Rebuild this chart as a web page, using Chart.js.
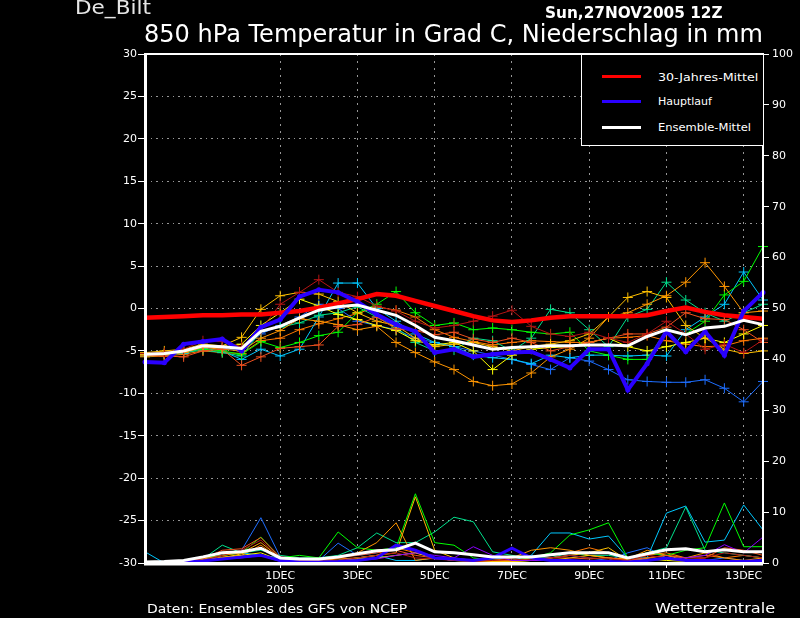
<!DOCTYPE html>
<html>
<head>
<meta charset="utf-8">
<script src="https://cdn.jsdelivr.net/npm/chart.js@4/dist/chart.umd.min.js"></script>
<style>
body { margin: 0; background: #000; }
#wrap { position: relative; width: 800px; height: 618px; background: #000; overflow: hidden; font-family: 'DejaVu Sans', sans-serif; color: #fff; }
#c { position: absolute; left: 0; top: 0; }
.t { position: absolute; white-space: nowrap; line-height: 1; transform-origin: 0 0; }
#legendBox { position: absolute; left: 581px; top: 54px; width: 181px; height: 90px; border: 1px solid #fff; background: #000; }
.sw { position: absolute; width: 39px; height: 3px; }
</style>
</head>
<body>
<div id="wrap">
  <canvas id="c" width="800" height="618"></canvas>
  <div id="legendBox"></div>
</div>
<script>
// Zeitachse: 12-stuendlich ab 27NOV2005 12Z
const times = ['27NOV12','28NOV00','28NOV12','29NOV00','29NOV12','30NOV00','30NOV12',
  '01DEC00','01DEC12','02DEC00','02DEC12','03DEC00','03DEC12','04DEC00','04DEC12',
  '05DEC00','05DEC12','06DEC00','06DEC12','07DEC00','07DEC12','08DEC00','08DEC12',
  '09DEC00','09DEC12','10DEC00','10DEC12','11DEC00','11DEC12','12DEC00','12DEC12',
  '13DEC00','13DEC12'];
const tickDates = ['01DEC00','03DEC00','05DEC00','07DEC00','09DEC00','11DEC00','13DEC00'];
const tickText = [['1DEC','2005'],'3DEC','5DEC','7DEC','9DEC','11DEC','13DEC'];

// Temperatur 850 hPa (Grad C)
const klima30 = [-1.1,-1.0,-0.9,-0.8,-0.8,-0.7,-0.7,-0.5,-0.3,0.1, 0.6,1.1,1.7,1.5,0.9,0.3,-0.3,-0.9,-1.4,-1.6, -1.4,-1.1,-0.9,-0.9,-0.9,-0.9,-0.8,-0.3,0.1,-0.4, -0.8,-1.0,-1.2];
const hauptlauf = [-6.3,-6.4,-4.2,-3.9,-3.6,-5.0,-2.2,-1.3,1.4,2.2, 1.9,0.8,-0.7,-1.9,-2.7,-5.2,-4.8,-5.7,-5.4,-5.2, -5.1,-6.0,-7.0,-4.8,-4.8,-9.6,-6.5,-2.7,-5.1,-2.7, -5.5,-0.3,1.9];
const ensMittel = [-5.4,-5.3,-5.0,-4.4,-4.5,-4.7,-2.7,-2.1,-1.1,-0.2, 0.2,0.4,-0.2,-0.8,-2.0,-3.4,-3.8,-4.3,-4.8,-4.6, -4.5,-4.4,-4.4,-4.3,-4.3,-4.4,-3.3,-2.5,-3.1,-2.3, -2.1,-1.4,-1.9];

// Ensemble-Mitglieder
const tDarkred = [-5.3,-5.2,-4.8,-3.8,-3.9,-4.5,-2.5,0.5,1.9,3.4, 1.9,1.4,0.3,-0.3,-1.5,-2.3,-2.0,-1.5,-0.9,-0.2, -2.1,-3.0,-3.3,-2.8,-3.5,-4.0,-3.0,-1.5,-3.0,-4.8, -4.2,-5.2,-3.7];
const tOrangered = [-5.5,-5.6,-5.7,-5.0,-4.8,-6.7,-5.7,-4.7,-4.5,-4.3, -2.1,-1.9,-1.0,-2.4,-2.6,-3.1,-2.8,-3.6,-4.0,-3.5, -4.0,-5.0,-4.5,-4.0,-3.5,-3.0,-3.0,-2.2,-0.5,-1.2, -1.3,-2.5,-4.0];
const tOrange = [-5.6,-5.4,-5.2,-4.6,-4.8,-5.0,-3.5,-2.6,-1.2,-1.5, -1.9,-2.5,-2.1,-4.0,-5.2,-6.3,-7.2,-8.6,-9.1,-8.9, -7.6,-5.7,-4.8,-3.5,-1.0,-0.5,0.5,1.5,3.1,5.4, 2.6,-0.5,-0.3];
const tGold = [-5.2,-5.0,-4.8,-4.2,-4.4,-3.4,-0.1,1.5,1.9,1.7, 0.8,-0.5,-1.5,-2.0,-3.5,-4.5,-4.2,-4.0,-4.5,-5.0, -4.5,-4.2,-3.8,-3.0,-1.0,1.3,2.0,1.3,-2.0,-3.5, -4.8,-5.3,-5.0];
const tYellow = [-5.4,-5.3,-5.1,-4.5,-4.6,-4.2,-2.0,-0.5,1.1,0.3, -0.7,-1.3,-2.0,-2.6,-3.8,-4.3,-4.0,-5.0,-7.2,-5.5, -4.8,-4.6,-4.5,-4.0,-3.5,-4.5,-5.0,-4.5,-4.0,-3.5, -4.0,-3.0,-2.0];
const tGreen = [-5.5,-5.3,-5.0,-4.8,-5.0,-5.4,-3.9,-4.6,-4.0,-3.2, -2.8,-0.5,0.5,2.0,-0.5,-2.0,-1.7,-2.5,-2.3,-2.5, -2.8,-3.0,-2.8,-5.0,-5.5,-6.0,-6.0,-2.5,-3.0,-1.5, 1.6,3.2,7.3];
const tTeal = [-5.6,-5.5,-5.2,-4.9,-5.2,-5.6,-2.7,-2.2,-1.7,-0.8, -0.5,0.2,-1.0,-2.2,-4.0,-5.0,-4.9,-3.5,-3.8,-5.0, -3.5,-0.1,-0.5,-2.5,-4.5,-1.0,-0.1,3.1,1.0,-0.5, -1.5,-0.5,0.5];
const tCyan = [-5.5,-5.4,-5.3,-4.7,-5.0,-6.0,-4.8,-5.6,-4.8,-1.0, 3.0,3.0,0.0,-1.5,-3.0,-4.0,-4.5,-5.5,-5.8,-6.0, -6.5,-5.5,-5.8,-5.5,-5.5,-5.6,-5.5,-5.6,-2.5,-1.0, 0.5,4.3,1.0];
const tBlue = [-5.5,-5.4,-5.1,-4.6,-4.7,-5.0,-3.0,-2.0,-1.0,0.5, 0.0,-1.5,-2.0,-2.5,-3.5,-4.0,-4.5,-5.0,-5.5,-6.0, -6.6,-7.2,-5.8,-6.2,-7.2,-8.4,-8.6,-8.7,-8.7,-8.4, -9.4,-11.0,-8.6];
const tOrange2 = [-5.7,-5.6,-5.4,-5.0,-5.2,-5.3,-3.8,-3.5,-2.5,-1.8, -1.2,-0.6,0.2,-0.2,-1.0,-2.5,-3.4,-3.9,-4.3,-4.0, -3.8,-3.9,-4.0,-4.0,-3.5,-3.4,-3.2,-3.8,-4.2,-4.5, -4.4,-3.8,-3.5];

// Niederschlag (mm, rechte Achse)
const nMittel = [0.2,0.3,0.5,1.2,2.0,2.2,2.9,1.0,0.8,0.8, 1.2,1.8,2.4,2.6,3.9,2.2,2.0,1.6,1.2,1.2, 1.2,1.6,2.0,2.0,2.0,1.0,1.8,2.6,2.8,2.2, 2.6,2.2,2.2];
const nHaupt = [0.1,0.1,0.2,0.4,0.8,1.2,1.5,0.5,0.2,0.2, 0.3,0.5,1.0,3.5,2.5,1.0,0.8,0.5,1.0,2.9, 1.0,0.5,0.5,0.3,0.3,0.2,0.5,1.0,0.5,0.5, 0.3,0.3,0.5];
const nDarkred = [0.1,0.1,0.2,0.5,1.5,2.5,4.5,1.0,0.5,0.3, 0.5,1.0,1.5,2.0,1.0,0.8,0.5,0.3,0.5,0.8, 0.5,1.0,1.5,1.0,0.8,0.5,1.5,1.0,0.5,1.0, 2.0,1.5,1.0];
const nOrangered = [0.2,0.2,0.3,0.8,2.5,2.8,5.0,1.2,0.8,0.5, 1.0,1.5,2.0,2.5,1.5,1.0,0.8,0.5,0.5,0.5, 0.8,1.0,1.0,0.8,1.0,0.5,1.0,1.5,1.0,1.0, 3.0,2.5,1.5];
const nOrange = [0.1,0.1,0.3,0.8,1.5,2.0,4.0,1.0,0.5,0.3, 1.0,2.0,4.0,7.9,0.5,1.0,0.5,0.3,0.5,1.0, 2.5,3.0,2.5,1.5,1.0,0.8,2.5,1.5,1.0,2.0, 1.0,0.5,1.0];
const nGold = [0.3,0.2,0.3,0.6,1.0,1.8,3.0,0.8,0.5,0.5, 0.5,1.0,1.5,2.0,13.0,2.5,1.0,0.5,0.3,0.3, 0.5,1.0,1.5,2.0,3.0,0.5,1.0,1.5,0.5,0.3, 0.5,0.3,0.5];
const nYellow = [0.2,0.2,0.2,0.5,1.0,1.5,2.0,0.5,0.3,0.3, 0.5,0.8,1.0,1.5,2.0,1.0,0.8,0.5,0.3,0.3, 0.5,0.5,1.0,1.5,1.0,0.5,0.8,0.5,0.3,0.5, 0.3,0.3,0.5];
const nGreen = [0.3,0.2,0.5,1.0,1.5,2.0,5.1,1.0,1.5,1.0, 6.1,3.0,2.5,3.0,13.6,4.0,3.5,1.0,0.5,0.5, 1.0,2.0,5.5,6.5,7.9,1.0,2.0,1.5,2.5,3.0, 11.8,3.2,3.2];
const nTeal = [0.2,0.1,0.3,0.8,3.5,2.0,2.5,1.5,1.0,1.0, 1.5,3.0,5.9,4.0,4.0,6.1,9.0,8.1,2.2,1.5, 1.0,1.0,2.0,1.5,1.5,1.0,2.0,3.0,11.0,2.5, 2.0,1.5,1.0];
const nCyan = [2.2,0.0,0.2,0.5,1.5,2.0,1.5,1.0,0.5,0.3, 0.5,1.0,1.5,0.5,0.5,1.0,0.5,0.3,0.5,0.5, 1.5,5.9,5.9,4.7,5.3,1.0,1.0,9.8,11.2,4.1, 4.5,11.4,6.5];
const nBlue = [0.2,0.2,0.3,0.8,1.5,2.5,8.9,1.2,0.5,0.5, 3.9,1.5,2.0,3.0,2.5,1.0,0.5,0.5,0.8,1.0, 1.5,1.0,1.5,1.0,0.5,2.0,3.0,1.0,0.5,0.5, 1.0,0.5,0.5];
const nOrange2 = [0.1,0.1,0.2,0.5,1.2,1.5,3.5,0.8,0.5,0.5, 0.8,1.0,1.5,3.0,2.0,1.0,0.5,0.5,0.3,0.5, 1.0,1.5,2.0,3.0,2.0,0.5,1.5,2.0,1.0,1.5, 1.0,1.5,1.0];
const nPurple = [0.1,0.1,0.1,0.3,0.8,1.0,1.5,0.3,0.2,0.2, 0.3,0.5,0.8,1.5,2.0,1.5,1.0,3.2,1.5,0.5, 0.5,0.5,0.3,0.5,0.3,0.2,0.5,0.8,1.0,1.5, 3.6,2.0,5.1];

const members = [
  { t: tDarkred, n: nDarkred, c: '#b41414' },
  { t: tOrangered, n: nOrangered, c: '#f0501e' },
  { t: tOrange, n: nOrange, c: '#ff9600' },
  { t: tGold, n: nGold, c: '#ffc000' },
  { t: tYellow, n: nYellow, c: '#ffff00' },
  { t: tGreen, n: nGreen, c: '#00ff00' },
  { t: tTeal, n: nTeal, c: '#00e08c' },
  { t: tCyan, n: nCyan, c: '#00c8ff' },
  { t: tBlue, n: nBlue, c: '#1e6eff' },
  { t: tOrange2, n: nOrange2, c: '#ff7800' }
];

const datasets = [
  { label: 'Ensemble-Mittel', data: ensMittel, borderColor: '#ffffff', borderWidth: 3, pointRadius: 0, yAxisID: 'y', order: 0 },
  { label: 'Ensemble-Mittel N', data: nMittel, borderColor: '#ffffff', borderWidth: 3, pointRadius: 0, yAxisID: 'yP', order: 0 },
  { label: 'Hauptlauf', data: hauptlauf, borderColor: '#2a00ff', borderWidth: 4, pointRadius: 2.5, pointBackgroundColor: '#2a00ff', pointBorderWidth: 0, yAxisID: 'y', order: 1 },
  { label: 'Hauptlauf N', data: nHaupt, borderColor: '#2a00ff', borderWidth: 3, pointRadius: 0, yAxisID: 'yP', order: 1 },
  { label: '30-Jahres-Mittel', data: klima30, borderColor: '#ff0000', borderWidth: 4.5, pointRadius: 0, yAxisID: 'y', order: 2 },
  { label: 'purple N', data: nPurple, borderColor: '#8c00ff', borderWidth: 1, pointRadius: 0, yAxisID: 'yP', order: 10 }
];
members.forEach(function (m, i) {
  datasets.push({ label: 'm' + i, data: m.t, borderColor: m.c, borderWidth: 1,
    pointStyle: 'cross', pointRadius: 5, pointBorderColor: m.c, pointBorderWidth: 1, yAxisID: 'y', order: 10 });
  datasets.push({ label: 'm' + i + ' N', data: m.n, borderColor: m.c, borderWidth: 1, pointRadius: 0, yAxisID: 'yP', order: 10 });
});

// weisser Rahmen um das Diagramm
const framePlugin = {
  id: 'frame',
  afterDatasetsDraw(chart) {
    const ctx = chart.ctx, a = chart.chartArea;
    ctx.save();
    ctx.strokeStyle = '#fff';
    ctx.lineWidth = 2;
    ctx.strokeRect(a.left, a.top, a.right - a.left, a.bottom - a.top);
    ctx.lineWidth = 3;
    ctx.beginPath();
    ctx.moveTo(a.left + 0.5, a.top); ctx.lineTo(a.left + 0.5, a.bottom + 1);
    ctx.lineTo(a.right, a.bottom + 1);
    ctx.stroke();
    ctx.restore();
  }
};

const axisFont = { family: 'DejaVu Sans', size: 11 };

new Chart(document.getElementById('c').getContext('2d'), {
  type: 'line',
  data: { labels: times, datasets: datasets },
  options: {
    responsive: false,
    animation: false,
    layout: { padding: { top: 54, left: 0, right: 0, bottom: 0 } },
    elements: { line: { tension: 0 } },
    plugins: { legend: { display: false }, tooltip: { enabled: false } },
    scales: {
      x: {
        type: 'category',
        offset: false,
        afterBuildTicks(s) { s.ticks = tickDates.map(d => ({ value: times.indexOf(d) })); },
        afterFit(s) { s.height = 55; },
        grid: { color: '#969696', lineWidth: 1, tickLength: 5, tickColor: '#fff' },
        border: { display: false, dash: [2, 5] },
        ticks: { color: '#fff', font: axisFont, padding: 2, autoSkip: false, maxRotation: 0,
          callback: function (v, i) { return tickText[i]; } }
      },
      y: {
        position: 'left', min: -30, max: 30,
        afterFit(s) { s.width = 145; },
        grid: { color: '#969696', lineWidth: 1, tickLength: 7, tickColor: '#fff' },
        border: { display: false, dash: [2, 4, 1, 4] },
        ticks: { stepSize: 5, color: '#fff', font: axisFont, padding: 1 }
      },
      yP: {
        position: 'right', min: 0, max: 100,
        afterFit(s) { s.width = 37; },
        grid: { drawOnChartArea: false, tickLength: 6, tickColor: '#fff' },
        border: { display: false },
        ticks: { stepSize: 10, color: '#fff', font: axisFont, padding: 3 }
      }
    }
  },
  plugins: [framePlugin]
});

// Beschriftungen als echter Text
const wrap = document.getElementById('wrap');
const labels = [
  { s: 'De_Bilt', x: 75, b: 14, size: 19, w: 76, color: '#e6e6e6' },
  { s: 'Sun,27NOV2005 12Z', x: 545, b: 18.5, size: 16, w: 178, bold: true },
  { s: '850 hPa Temperatur in Grad C, Niederschlag in mm', x: 144, b: 42, size: 25, w: 619 },
  { s: 'Daten: Ensembles des GFS von NCEP', x: 147, b: 613, size: 13, w: 260 },
  { s: 'Wetterzentrale', x: 655, b: 613, size: 14, w: 120 },
  { s: '30-Jahres-Mittel', x: 658, b: 81, size: 11, w: 100 },
  { s: 'Hauptlauf', x: 658, b: 105.5, size: 11, w: 54 },
  { s: 'Ensemble-Mittel', x: 658, b: 131, size: 11, w: 93 }
];
labels.forEach(function (l) {
  const el = document.createElement('div');
  el.className = 't';
  el.textContent = l.s;
  el.style.fontSize = l.size + 'px';
  if (l.bold) el.style.fontWeight = 'bold';
  if (l.color) el.style.color = l.color;
  el.style.left = l.x + 'px';
  el.style.top = (l.b - 0.846 * l.size) + 'px';
  wrap.appendChild(el);
  el.style.transform = 'scaleX(' + (l.w / el.offsetWidth) + ')';
});
// Legenden-Linien
[['#ff0000', 75], ['#2a00ff', 100], ['#ffffff', 126]].forEach(function (p) {
  const sw = document.createElement('div');
  sw.className = 'sw';
  sw.style.background = p[0];
  sw.style.left = '602px';
  sw.style.top = p[1] + 'px';
  wrap.appendChild(sw);
});
</script>
</body>
</html>
